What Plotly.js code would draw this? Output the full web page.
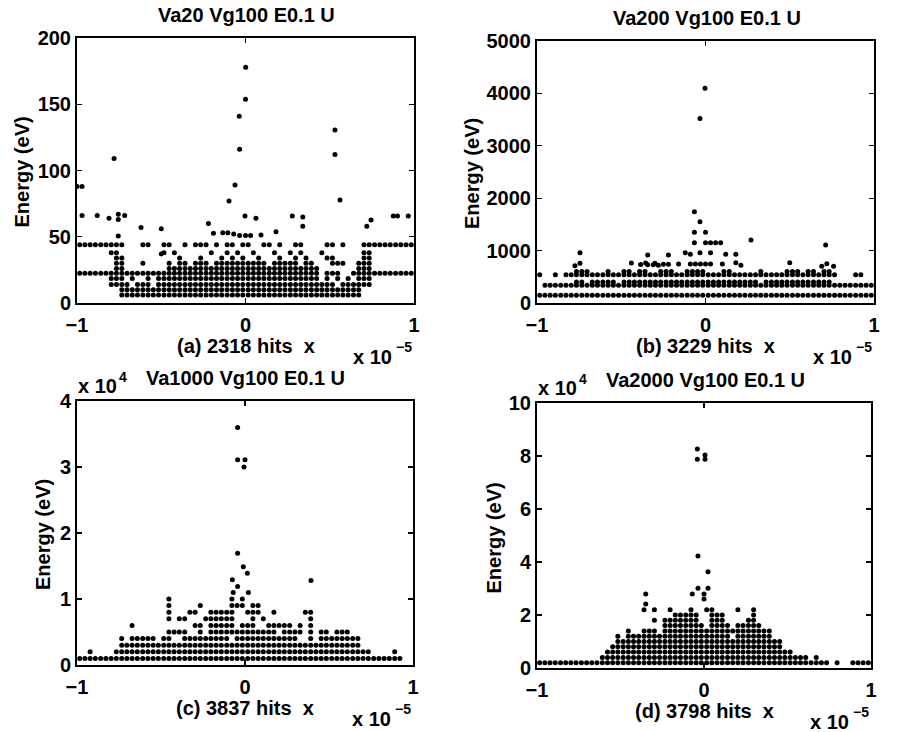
<!DOCTYPE html>
<html>
<head>
<meta charset="utf-8">
<script src="https://cdn.plot.ly/plotly-3.0.1.min.js"></script>
<style>html,body{margin:0;padding:0;background:#fff;}#chart{width:902px;height:732px;}</style>
</head>
<body>
<div id="chart"></div>
<script>
// ---------- DATA ----------
// x positions of the 64 sampling columns (units of 1e-5)
const colX = [-0.984,-0.953,-0.922,-0.891,-0.859,-0.828,-0.797,-0.766,-0.734,-0.703,-0.672,-0.641,-0.609,-0.578,-0.547,-0.516,
  -0.484,-0.453,-0.422,-0.391,-0.359,-0.328,-0.297,-0.266,-0.234,-0.203,-0.172,-0.141,-0.109,-0.078,-0.047,-0.016,
  0.016,0.047,0.078,0.109,0.141,0.172,0.203,0.234,0.266,0.297,0.328,0.359,0.391,0.422,0.453,0.484,
  0.516,0.547,0.578,0.609,0.641,0.672,0.703,0.734,0.766,0.797,0.828,0.859,0.891,0.922,0.953,0.984];

// Panel (a) Va20: energy levels (eV) and which columns carry a hit at that level
const aLevels = [6, 10, 14, 18.5, 22.5, 26, 30, 34, 38, 44];
const aMasks = [
  "........|########|########|########|########|########|######..|........",
  "........|########|########|########|########|########|######..|........",
  "......##|##.###.#|########|########|########|########|#.######|........",
  "......##|#.#..#.#|########|########|########|######.#|.#.#.###|........",
  "########|########|########|########|########|######.#|##..####|########",
  ".......#|#.......|.#######|########|########|######..|.....###|........",
  ".......#|#...#...|.#.##.##|#.######|####.###|##.##...|###..###|........",
  ".......#|#.......|...#...#|...#.#.#|..#...#.|.#.#...#|#.....##|........",
  "......##|........|#.#.....|.#..#.#.|.#...#..|#.#...#.|......##|........",
  "########|#...##..|##..#.##|#.#.##.#|#..##.#.|.##....#|#.#...##|########"
];
const aOutX = [-1.0,-0.97,-0.97,-0.88,-0.81,-0.755,-0.755,-0.717,-0.755,-0.78,-0.62,-0.5,-0.5,-0.22,-0.19,-0.098,-0.062,-0.037,-0.035,0.001,0.0,-0.003,0.062,0.092,0.181,0.278,0.34,0.34,0.531,0.531,0.561,0.72,0.745,0.877,0.902,0.966,-0.135,-0.105,-0.07,-0.035,0.0,0.03];
const aOutY = [88,88,66,66,64,67,63,66,50.6,109,57,56,37,60,52.6,77,89,141,116,178,153.7,65.7,64,51.3,53.8,65.7,65,58,130.6,112,77.7,58,62.6,65.7,65.7,65.7,53,53,52,51,51,51];

// Panel (b) Va200
const bLevels = [150, 340, 400, 540, 600];
const bMasks = [
  "########|########|########|########|########|########|########|########",
  ".#######|########|########|########|########|########|########|########",
  ".......#|#.#####.|########|########|########|##.#####|########|........",
  "#..#.###|########|########|########|########|########|########|#...##..",
  ".......#|##...#..|##.##..#|##..####|...##...|..#....#|##.##.##|........"
];
const bOutX = [-0.003,-0.033,-0.066,-0.033,-0.066,0.0,-0.066,0.0,0.03,0.06,0.09,0.27,0.713,
  -0.745,-0.343,-0.22,-0.12,-0.09,-0.033,0.03,0.12,0.18,
  -0.775,-0.745,-0.44,-0.385,-0.355,-0.30,-0.343,-0.31,-0.28,-0.25,-0.22,-0.16,-0.09,-0.06,-0.03,0.0,0.03,0.1,0.18,0.21,0.5,0.69,0.72,0.76];
const bOutY = [4100,3520,1740,1550,1350,1350,1150,1150,1150,1150,1150,1200,1107,
  960,916,916,960,930,960,960,930,930,
  712,760,763,735,765,757,730,730,720,740,740,745,745,745,745,745,745,745,770,720,770,700,750,700];

// Panel (c) Va1000
const cLevels = [1000, 2000, 3000, 4000, 5000, 6000, 7000, 8000, 9000, 10000];
const cMasks = [
  "########|########|########|########|########|########|########|######..",
  "..#....#|########|########|########|########|########|########|....#...",
  "........|########|########|########|########|########|######..|........",
  "........|#.#####.|##..####|#####.##|########|##..#.##|######..|........",
  "........|........|.####..#|.#######|######.#|###.#.##|.###....|........",
  "........|..#.....|......##|.#####.#|##..####|#.#.#...|........|........",
  "........|........|.#.##...|######..|.#.#....|....#...|........|........",
  "........|........|.#...##.|.#####..|###..#..|...##...|........|........",
  "........|........|.#.....#|.....###|.##.....|........|........|........",
  "........|........|.#......|.....#.#|........|........|........|........"
];
const cOutX = [-0.044,-0.044,0.0,-0.006,-0.044,-0.01,0.014,-0.075,0.393,-0.044,-0.07,0.02];
const cOutY = [36000,31100,31100,30000,16950,14900,13900,12900,12800,11900,11000,11000];

// Panel (d) Va2000
const dLevels = [2000, 4000, 6000, 8000, 10000, 12000, 14000, 16000, 18000, 20000, 22000];
const dMasks = [
  "########|########|########|########|########|########|########|.#..####",
  "........|....####|########|########|########|########|####.#..|........",
  "........|.....###|########|########|########|########|#.......|........",
  "........|......##|########|########|########|#######.|........|........",
  "........|.......#|########|########|########|#######.|........|........",
  "........|.......#|.#######|########|#####.##|#####...|........|........",
  "........|........|.#..###.|########|########|#####...|........|........",
  "........|........|........|########|.####.##|###.....|........|........",
  "........|........|......#.|#######.|.###....|##......|........|........",
  "........|........|........|..#####.|.###....|.#......|........|........",
  "........|........|....#.#.|.#...#..|##....#.|.#......|........|........"
];
const dOutX = [-0.349,-0.349,-0.07,-0.036,0.0,0.0,0.024,0.024,-0.036,-0.04,-0.04,0.006,0.006];
const dOutY = [24150,27930,27930,30070,27930,26040,30070,36350,42270,82650,78760,78760,80390];

const titles = ["Va20 Vg100 E0.1 U", "Va200 Vg100 E0.1 U", "Va1000 Vg100 E0.1 U", "Va2000 Vg100 E0.1 U"];
const xLabels = ["(a) 2318 hits  x", "(b) 3229 hits  x", "(c) 3837 hits  x", "(d) 3798 hits  x"];
const yTickVals = [[0,50,100,150,200],[0,1000,2000,3000,4000,5000],[0,10000,20000,30000,40000],[0,20000,40000,60000,80000,100000]];
const yTickText = [["0","50","100","150","200"],["0","1000","2000","3000","4000","5000"],["0","1","2","3","4"],["0","2","4","6","8","10"]];
const xExp = "\u22125", yExp = "4";

// ---------- BUILD ----------
function expand(levels, masks, ox, oy) {
  const xs = [], ys = [];
  levels.forEach((E, i) => {
    const m = masks[i].replace(/\|/g, '');
    for (let k = 0; k < m.length; k++) if (m[k] === '#') { xs.push(colX[k]); ys.push(E); }
  });
  return {x: xs.concat(ox), y: ys.concat(oy)};
}
const panels = [
  expand(aLevels, aMasks, aOutX, aOutY),
  expand(bLevels, bMasks, bOutX, bOutY),
  expand(cLevels, cMasks, cOutX, cOutY),
  expand(dLevels, dMasks, dOutX, dOutY)
];

const W = 902, H = 732;
// plot boxes in pixels: [left, right, top, bottom]
const boxes = [[77,414,38,303],[537,874,41,303],[77,413,401,665],[537,871,403,668]];
const yLabelOffset = [55, 65, 34, 44];
const yRanges = [[0,200],[0,5000],[0,40000],[0,100000]];
const FONT = 'Liberation Sans, Arial, sans-serif';
const FS = 20;
const TF = {family: FONT, size: FS, color: '#000', weight: 'bold'};
const SF = {family: FONT, size: 14, color: '#000', weight: 'bold'};
const px = v => v / W, py = v => 1 - v / H;

const traces = panels.map((p, i) => ({
  type: 'scatter', mode: 'markers', x: p.x, y: p.y,
  xaxis: i ? 'x' + (i + 1) : 'x', yaxis: i ? 'y' + (i + 1) : 'y',
  marker: {color: '#000', size: 5}, hoverinfo: 'skip', showlegend: false
}));

const layout = {
  width: W, height: H, margin: {l:0, r:0, t:0, b:0},
  paper_bgcolor: '#fff', plot_bgcolor: '#fff', showlegend: false,
  font: TF,
  annotations: []
};
boxes.forEach((b, i) => {
  const sx = i ? String(i + 1) : '';
  const axBase = {showgrid: false, zeroline: false, showline: true, linecolor: '#000', linewidth: 2,
    mirror: 'ticks', ticks: 'inside', ticklen: 5, tickwidth: 1.3, tickcolor: '#000',
    tickfont: TF};
  layout['xaxis' + sx] = Object.assign({}, axBase, {domain: [px(b[0]), px(b[1])], range: [-1, 1],
    anchor: 'y' + sx, tickvals: [-1, 0, 1], ticktext: ['\u22121', '0', '1'], ticklabelstandoff: 3});
  layout['yaxis' + sx] = Object.assign({}, axBase, {domain: [py(b[3]), py(b[2])], range: yRanges[i],
    anchor: 'x' + sx, tickvals: yTickVals[i], ticktext: yTickText[i]});
  const cx = (b[0] + b[1]) / 2;
  const A = (text, x, y, extra) => layout.annotations.push(Object.assign({text, x: px(x), y: py(y),
    xref: 'paper', yref: 'paper', showarrow: false, xanchor: 'center', yanchor: 'middle',
    font: TF}, extra || {}));
  A(titles[i], cx + 1, b[2] - 23);
  A(xLabels[i], cx, b[3] + 43);
  // "x 10^-5" multiplier below the right end of the x axis
  A('x 10', b[1] - 20, b[3] + 54, {xanchor: 'right'});
  A(xExp, b[1] - 20, b[3] + 44, {xanchor: 'left', font: SF});
  A('Energy (eV)', b[0] - yLabelOffset[i], (b[2] + b[3]) / 2 + 2, {textangle: -90});
  if (i >= 2) {
    // "x 10^4" multiplier above the y axis
    A('x 10', b[0] - 1, b[2] - 15, {xanchor: 'left'});
    A(yExp, b[0] + 40, b[2] - 24, {xanchor: 'left', font: SF});
  }
});

Plotly.newPlot('chart', traces, layout, {staticPlot: true, displayModeBar: false});
</script>
</body>
</html>
